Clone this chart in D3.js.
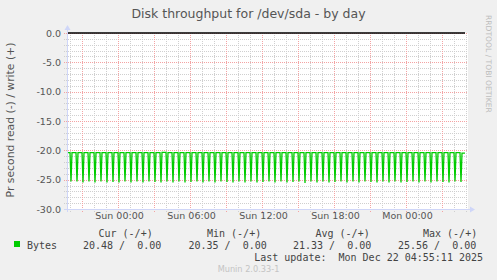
<!DOCTYPE html>
<html>
<head>
<meta charset="utf-8">
<script src="https://cdn.jsdelivr.net/npm/d3@7"></script>
<style>
  html, body { margin: 0; padding: 0; background: #f0f0f0; }
  svg { display: block; font-family: "DejaVu Sans", sans-serif; }
  .mono { font-family: "DejaVu Sans Mono", monospace; font-size: 10px; fill: #444; white-space: pre; }
</style>
</head>
<body>
<div id="svg-container"></div>
<script>
////////////////////////////////////////////////////////////////////
////////////////////////////  Data  ////////////////////////////////
const title = "Disk throughput for /dev/sda - by day";
const yLabel = "Pr second read (-) / write (+)";
const yTicks = [0, -5, -10, -15, -20, -25, -30];

// half-hourly read spikes (bytes/s, graphed negative), first at Sat 20:05
const firstSpike = new Date(2025, 11, 20, 20, 5);
const readSpike = [
  25.3, 25.3, 25.5, 25.3, 25.5, 25.3, 25.5, 25.4, 25.5, 25.3, 25.5,
  25.3, 25.5, 25.3, 25.4, 25.5, 25.3, 25.5, 25.3, 25.5, 25.4, 25.3,
  25.5, 25.3, 25.5, 25.3, 25.4, 25.5, 25.3, 25.5, 25.3, 25.5, 25.4,
  25.3, 25.5, 25.3, 25.5, 25.4, 25.3, 25.56, 25.3, 25.5, 25.3, 25.5,
  25.4, 25.3, 25.5, 25.3, 25.5, 25.3, 25.4, 25.5, 25.3, 25.5, 25.3,
  25.5, 25.4, 25.3, 25.5, 25.3, 25.5, 25.3, 25.4, 25.5, 25.3, 25.4
];
// level between spikes
const readBase = [
  20.4, 20.4, 20.4, 20.4, 20.4, 20.4, 20.4, 20.4, 20.4, 20.4, 20.4,
  20.4, 20.4, 20.4, 20.4, 20.35, 20.4, 20.4, 20.4, 20.4, 20.4, 20.4,
  20.4, 20.4, 20.4, 20.4, 20.4, 20.4, 20.4, 20.4, 20.4, 20.4, 20.4,
  20.4, 20.4, 20.4, 20.4, 20.4, 20.4, 20.4, 20.4, 20.4, 20.4, 20.4,
  20.4, 20.4, 20.4, 20.4, 20.4, 20.4, 20.4, 20.4, 20.4, 20.4, 20.4,
  20.4, 20.4, 20.4, 20.4, 20.4, 20.4, 20.4, 20.4, 20.4, 20.4, 20.48
];
const dataStart = new Date(2025, 11, 20, 19, 45);
const dataEnd = new Date(2025, 11, 22, 4, 55);
const writeValue = 0;

const legendHeaders = ["Cur (-/+)", "Min (-/+)", "Avg (-/+)", "Max (-/+)"];
const legendValues = ["20.48 /  0.00", "20.35 /  0.00", "21.33 /  0.00", "25.56 /  0.00"];
const lastUpdate = "Last update:  Mon Dec 22 04:55:11 2025";

////////////////////////////////////////////////////////////////////
////////////////////////////  Init  ////////////////////////////////
const width = 497;
const height = 280;
const plot = { left: 67, right: 467, top: 33, bottom: 209 };

const svg = d3.select("#svg-container").append("svg")
  .attr("width", width).attr("height", height);

svg.append("rect").attr("width", width).attr("height", height).attr("fill", "#f0f0f0");

const xScale = d3.scaleTime()
  .domain([new Date(2025, 11, 20, 19, 45), new Date(2025, 11, 22, 5, 5)])
  .range([plot.left, plot.right]);

const yScale = d3.scaleLinear().domain([-30, 0]).range([plot.bottom, plot.top]);

const fmt = d3.formatLocale({ decimal: ".", thousands: ",", grouping: [3], currency: ["", ""], minus: "-" }).format(".1f");

// canvas
svg.append("rect")
  .attr("x", plot.left).attr("y", plot.top)
  .attr("width", plot.right - plot.left + 1).attr("height", plot.bottom - plot.top)
  .attr("fill", "#fff");

////////////////////////////////////////////////////////////////////
////////////////////////////  Grid  ////////////////////////////////
const grid = svg.append("g").attr("shape-rendering", "crispEdges");

// minor horizontal every 1
grid.selectAll(".hmin")
  .data(d3.range(-29, 0).filter((d) => d % 5 != 0))
  .enter().append("line")
  .attr("x1", plot.left - 3).attr("x2", plot.right + 1)
  .attr("y1", (d) => Math.round(yScale(d)) + 0.5).attr("y2", (d) => Math.round(yScale(d)) + 0.5)
  .attr("stroke", "#cfcfcf").attr("stroke-dasharray", "1,1");

// minor vertical every hour
grid.selectAll(".vmin")
  .data(xScale.ticks(d3.timeHour.every(1)).filter((d) => d.getHours() % 3 != 0))
  .enter().append("line")
  .attr("x1", (d) => Math.round(xScale(d)) + 0.5).attr("x2", (d) => Math.round(xScale(d)) + 0.5)
  .attr("y1", plot.top).attr("y2", plot.bottom + 3)
  .attr("stroke", "#cfcfcf").attr("stroke-dasharray", "1,1");

// major horizontal
grid.selectAll(".hmaj")
  .data(yTicks)
  .enter().append("line")
  .attr("x1", plot.left - 3).attr("x2", plot.right + 1)
  .attr("y1", (d) => Math.round(yScale(d)) + 0.5).attr("y2", (d) => Math.round(yScale(d)) + 0.5)
  .attr("stroke", "#f4a3a3").attr("stroke-dasharray", "1,1");

// major vertical every 3 hours
grid.selectAll(".vmaj")
  .data(xScale.ticks(d3.timeHour.every(3)))
  .enter().append("line")
  .attr("x1", (d) => Math.round(xScale(d)) + 0.5).attr("x2", (d) => Math.round(xScale(d)) + 0.5)
  .attr("y1", plot.top).attr("y2", plot.bottom + 3)
  .attr("stroke", "#f4a3a3").attr("stroke-dasharray", "1,1");

////////////////////////////////////////////////////////////////////
////////////////////////////  Lines  ///////////////////////////////
// build 5 minute samples from the spike table
const step = 5 * 60 * 1000;
const half = 30 * 60 * 1000;
const readData = [];
for (let t = dataStart.getTime(); t <= dataEnd.getTime(); t += step) {
  const k = Math.round((t - firstSpike.getTime()) / half);
  const onSpike = (t - firstSpike.getTime()) % half == 0 && k >= 0 && k < readSpike.length;
  const b = Math.max(0, Math.min(readBase.length - 1, Math.floor((t - firstSpike.getTime()) / half)));
  readData.push({ time: new Date(t), value: onSpike ? -readSpike[k] : -readBase[b] });
}

const line = d3.line().x((d) => xScale(d.time)).y((d) => yScale(d.value));

svg.append("path")
  .datum(readData)
  .attr("d", line)
  .attr("fill", "none")
  .attr("stroke", "#00cc00")
  .attr("stroke-width", 1.3);

svg.append("path")
  .datum([{ time: dataStart, value: writeValue }, { time: dataEnd, value: writeValue }])
  .attr("d", line)
  .attr("fill", "none")
  .attr("stroke", "#000")
  .attr("stroke-width", 1.5);

////////////////////////////////////////////////////////////////////
////////////////////////////  Axes  ////////////////////////////////
const axisColor = "#cfd6f8";
svg.append("line")
  .attr("x1", plot.left + 0.5).attr("x2", plot.left + 0.5)
  .attr("y1", plot.bottom + 3).attr("y2", plot.top - 4)
  .attr("stroke", axisColor);
svg.append("path")
  .attr("d", `M${plot.left - 2.5},${plot.top - 3} L${plot.left + 3.5},${plot.top - 3} L${plot.left + 0.5},${plot.top - 8} Z`)
  .attr("fill", axisColor);
svg.append("line")
  .attr("x1", plot.left - 3).attr("x2", plot.right + 4)
  .attr("y1", plot.bottom + 0.5).attr("y2", plot.bottom + 0.5)
  .attr("stroke", axisColor);
svg.append("path")
  .attr("d", `M${plot.right + 3},${plot.bottom - 2.5} L${plot.right + 3},${plot.bottom + 3.5} L${plot.right + 8},${plot.bottom + 0.5} Z`)
  .attr("fill", axisColor);

const yAxis = d3.axisLeft(yScale).tickValues(yTicks).tickFormat(fmt).tickSize(0).tickPadding(0);
const yAxisGroup = svg.append("g")
  .attr("transform", `translate(${plot.left - 6}, 0)`)
  .call(yAxis);
yAxisGroup.select(".domain").remove();
yAxisGroup.selectAll("text")
  .attr("font-family", "DejaVu Sans").attr("font-size", 9.5).attr("fill", "#555");

const xAxis = d3.axisBottom(xScale)
  .ticks(d3.timeHour.every(6))
  .tickFormat(d3.timeFormat("%a %H:%M"))
  .tickSize(0).tickPadding(0);
const xAxisGroup = svg.append("g")
  .attr("transform", `translate(1, ${plot.bottom + 3})`)
  .call(xAxis);
xAxisGroup.select(".domain").remove();
xAxisGroup.selectAll("text")
  .attr("font-family", "DejaVu Sans").attr("font-size", 9.5).attr("fill", "#555");

////////////////////////////////////////////////////////////////////
////////////////////////////  Texts  ///////////////////////////////
svg.append("text")
  .attr("x", 248.5).attr("y", 18)
  .attr("text-anchor", "middle")
  .attr("font-size", 12.5).attr("fill", "#555")
  .text(title);

svg.append("text")
  .attr("transform", `translate(14, 120) rotate(-90)`)
  .attr("text-anchor", "middle")
  .attr("font-size", 10.8).attr("fill", "#555")
  .text(yLabel);

svg.append("text")
  .attr("transform", `translate(486, 15) rotate(90)`)
  .attr("font-size", 7.6).attr("fill", "#bdbdbd")
  .text("RRDTOOL / TOBI OETIKER");

// legend
svg.append("rect")
  .attr("x", 14).attr("y", 241).attr("width", 6).attr("height", 6)
  .attr("fill", "#00cc00");

svg.append("text").attr("class", "mono").attr("x", 27).attr("y", 248.5).text("Bytes");

const colX = [83, 188.5, 293, 398];
const headX = [98.5, 207, 315.5, 423];
svg.selectAll(".lh").data(legendHeaders).enter().append("text")
  .attr("class", "mono").attr("x", (d, i) => headX[i]).attr("y", 236.5).text((d) => d);
svg.selectAll(".lv").data(legendValues).enter().append("text")
  .attr("class", "mono").attr("x", (d, i) => colX[i]).attr("y", 248.5).text((d) => d);

svg.append("text").attr("class", "mono")
  .attr("x", 483).attr("y", 260.5).attr("text-anchor", "end")
  .text(lastUpdate);

svg.append("text")
  .attr("x", 248.5).attr("y", 272)
  .attr("text-anchor", "middle")
  .attr("font-size", 8.2).attr("fill", "#c4c4c4")
  .text("Munin 2.0.33-1");
</script>
</body>
</html>
